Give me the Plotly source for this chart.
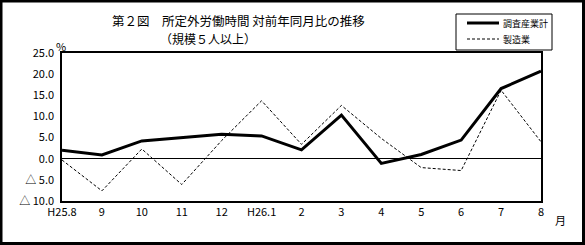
import plotly.graph_objects as go

categories = ["H25.8", "9", "10", "11", "12", "H26.1", "2", "3", "4", "5", "6", "7", "8"]
total_industry = [2.0, 0.9, 4.2, 5.0, 5.8, 5.4, 2.1, 10.3, -1.1, 1.0, 4.4, 16.6, 20.7]
manufacturing = [-0.3, -7.6, 2.3, -6.1, 4.3, 13.7, 3.4, 12.6, 4.8, -2.1, -2.8, 16.2, 4.0]
y_tick_vals = [-10, -5, 0, 5, 10, 15, 20, 25]
y_tick_text = ["△ 10.0", "△ 5.0", "0.0", "5.0", "10.0", "15.0", "20.0", "25.0"]
series_names = ["調査産業計", "製造業"]

FONT = "Noto Sans CJK JP"
W, H = 585, 245
L, R, T, B = 62, 44, 53, 44
pw, ph = W - L - R, H - T - B

def px(x):
    return (x - L) / pw

def py(y):
    return (H - B - y) / ph

xs = list(range(len(categories)))
styles = [dict(color="black", width=3), dict(color="black", width=1, dash="3px,2px")]

fig = go.Figure()
for name, vals, st in zip(series_names, [total_industry, manufacturing], styles):
    fig.add_trace(go.Scatter(x=xs, y=vals, mode="lines", name=name, line=st,
                             cliponaxis=False, showlegend=False))

fig.update_layout(
    width=W, height=H,
    margin=dict(l=L, r=R, t=T, b=B),
    paper_bgcolor="white", plot_bgcolor="white",
    font=dict(family=FONT, size=11, color="black"),
    xaxis=dict(range=[0, 12], tickvals=xs, ticktext=categories, showgrid=False,
               zeroline=False, showline=True, linecolor="black", linewidth=1.5, mirror=True,
               ticks="", tickfont=dict(size=11)),
    yaxis=dict(range=[-10, 25], tickvals=y_tick_vals, ticktext=y_tick_text, showgrid=False,
               zeroline=True, zerolinecolor="black", zerolinewidth=1,
               showline=True, linecolor="black", linewidth=1.5, mirror=True,
               ticks="outside", ticklen=4, tickcolor="rgba(0,0,0,0)", tickfont=dict(size=11)),
)

# title
fig.add_annotation(text="第２図　所定外労働時間 対前年同月比の推移", xref="paper", yref="paper",
                   x=px(110), y=py(20.5), xanchor="left", yanchor="middle", showarrow=False,
                   font=dict(size=12.5))
fig.add_annotation(text="（規模５人以上）", xref="paper", yref="paper",
                   x=px(158), y=py(38.5), xanchor="left", yanchor="middle", showarrow=False,
                   font=dict(size=12))
fig.add_annotation(text="%", xref="paper", yref="paper", x=px(61), y=py(46),
                   xanchor="center", yanchor="middle", showarrow=False, font=dict(size=11))
fig.add_annotation(text="月", xref="paper", yref="paper", x=px(560), y=py(220),
                   xanchor="center", yanchor="middle", showarrow=False, font=dict(size=11))

# legend (manual)
fig.add_shape(type="rect", xref="paper", yref="paper",
              x0=px(456), x1=px(552), y0=py(50), y1=py(14),
              line=dict(color="black", width=1), fillcolor="white", layer="above")
for i, (name, st) in enumerate(zip(series_names, styles)):
    yy = 23 + 16 * i
    fig.add_shape(type="line", xref="paper", yref="paper",
                  x0=px(467), x1=px(499), y0=py(yy), y1=py(yy),
                  line=st, layer="above")
    fig.add_annotation(text=name, xref="paper", yref="paper", x=px(501), y=py(yy),
                       xanchor="left", yanchor="middle", showarrow=False,
                       font=dict(size=9))

# outer frame
fig.add_shape(type="rect", xref="paper", yref="paper",
              x0=px(1), x1=px(W - 1.5), y0=py(H - 1.5), y1=py(1),
              line=dict(color="black", width=3), layer="above")

fig.write_html("out.html")
